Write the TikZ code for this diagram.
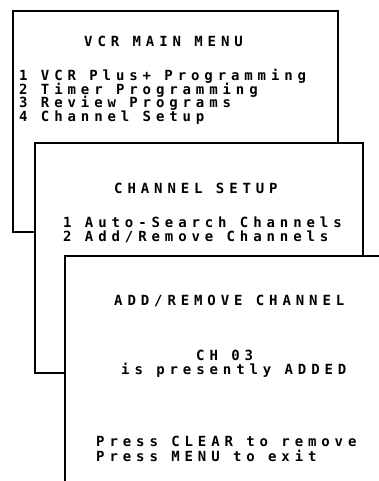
\documentclass[tikz,border=0pt]{standalone}
\usepackage{fontspec}
\newfontfamily\osdfont{DejaVu Sans Mono Bold}[LetterSpace=35]
\usetikzlibrary{positioning}

\begin{document}
\begin{tikzpicture}[
    x=1pt, y=-1pt,
    screen/.style={draw, line width=1.2pt, fill=white},
    osd/.style={anchor=base west, inner sep=0pt, text height=10pt, text depth=2.5pt,
        font=\osdfont\fontsize{14}{16}\selectfont}
]
\useasboundingbox (0,0) rectangle (379,481);
\clip (0,0) rectangle (379,481);

% Main menu screen
\draw[screen] (13,11) rectangle (338,232);
\node[osd] (mainhead) at (84,46.7) {VCR MAIN MENU};
\node[osd] (mainone) at (19,81) {1 VCR Plus+ Programming};
\node[osd] (maintwo) at (19,94.5) {2 Timer Programming};
\node[osd] (mainthree) at (19,108) {3 Review Programs};
\node[osd] (mainfour) at (19,121.5) {4 Channel Setup};

% Channel setup screen
\draw[screen] (35,143) rectangle (363,373);
\node[osd] (chanhead) at (114,193.3) {CHANNEL SETUP};
\node[osd] (chanone) at (63,227.3) {1 Auto-Search Channels};
\node[osd] (chantwo) at (63,241.5) {2 Add/Remove Channels};

% Add/remove screen
\draw[screen] (65,256) rectangle (420,520);
\node[osd] (addhead) at (114,305) {ADD/REMOVE CHANNEL};
\node[osd] (addch) at (196,360) {CH 03};
\node[osd] (addstate) at (121,374) {is presently ADDED};
\node[osd] (addclear) at (96,446.7) {Press CLEAR to remove};
\node[osd] (addmenu) at (96,461.5) {Press MENU to exit};

\end{tikzpicture}
\end{document}
